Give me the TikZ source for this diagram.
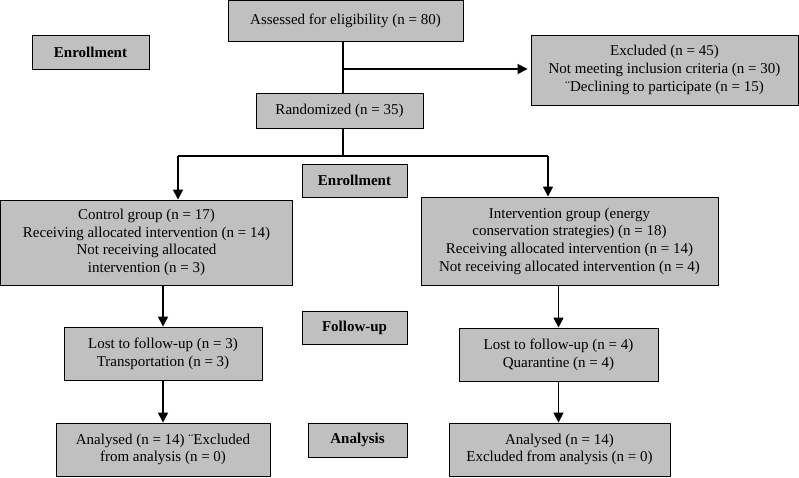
\documentclass[tikz,border=0pt]{standalone}
\usepackage{fontspec}
\setmainfont{Liberation Serif}
\usetikzlibrary{arrows.meta}
\definecolor{boxgray}{RGB}{192,192,192}
\tikzset{
  box/.style={draw=black, line width=0.9pt, fill=boxgray, align=center, inner sep=2pt,
    font=\fontsize{15pt}{17.7pt}\selectfont},
  lab/.style={box, font=\fontsize{15pt}{17.7pt}\selectfont\bfseries},
  conn/.style={line width=1.5pt, draw=black},
  arr/.style={conn, -{Triangle[length=10pt,width=10pt]}}
}
\begin{document}
\begin{tikzpicture}[x=1pt,y=-1pt]
\useasboundingbox (0,0) rectangle (799,477);
\node[box, minimum width=235pt, minimum height=41pt] (assess) at (345.5,21) {Assessed for eligibility (n = 80)};
\node[lab, minimum width=117pt, minimum height=34pt] (enr1) at (90.5,52) {Enrollment};
\node[box, minimum width=167pt, minimum height=35pt] (rand) at (339.5,110.5) {Randomized (n = 35)};
\node[box, minimum width=267pt, minimum height=70pt] (excl) at (664.5,70) {Excluded (n = 45)\\Not meeting inclusion criteria (n = 30)\\¨Declining to participate (n = 15)};
\node[lab, minimum width=105pt, minimum height=33pt] (enr2) at (354.5,180.5) {Enrollment};
\node[box, minimum width=292pt, minimum height=85pt] (ctrl) at (146.5,242.5) {Control group (n = 17)\\Receiving allocated intervention (n = 14)\\Not receiving allocated\\intervention (n = 3)};
\node[box, minimum width=297pt, minimum height=88pt] (intv) at (569.5,241) {Intervention group (energy\\conservation strategies) (n = 18)\\Receiving allocated intervention (n = 14)\\Not receiving allocated intervention (n = 4)};
\node[box, minimum width=198pt, minimum height=53pt] (lost1) at (163,353.5) {Lost to follow-up (n = 3)\\Transportation (n = 3)};
\node[lab, minimum width=105pt, minimum height=33pt] (fu) at (354.5,327.5) {Follow-up};
\node[box, minimum width=199pt, minimum height=53pt] (lost2) at (558.5,354.5) {Lost to follow-up (n = 4)\\Quarantine (n = 4)};
\node[box, minimum width=214pt, minimum height=53pt] (an1) at (163,449.5) {Analysed (n = 14) ¨Excluded\\from analysis (n = 0)};
\node[lab, minimum width=99pt, minimum height=34pt] (analysis) at (357.5,440) {Analysis};
\node[box, minimum width=221pt, minimum height=53pt] (an2) at (559.5,449.5) {Analysed (n = 14)\\Excluded from analysis (n = 0)};
\coordinate (j1) at (343,69);
\coordinate (j2) at (343,156);
\coordinate (cL) at (178,156);
\coordinate (cR) at (548,156);
\draw[conn] (assess.south -| j1) -- (rand.north -| j1);
\draw[arr, shorten >=3pt] (j1) -- (excl.west |- j1);
\draw[conn] (rand.south -| j2) -- (j2);
\draw[conn] (cL) -- (cR);
\draw[arr] (cL) -- (ctrl.north -| cL);
\draw[arr] (cR) -- (intv.north -| cR);
\draw[arr] (ctrl.south -| lost1.north) -- (lost1.north);
\draw[arr] (lost1.south) -- (an1.north);
\draw[arr] (intv.south -| lost2.north) -- (lost2.north);
\draw[arr] (lost2.south) -- (an2.north -| lost2.south);
\end{tikzpicture}
\end{document}
